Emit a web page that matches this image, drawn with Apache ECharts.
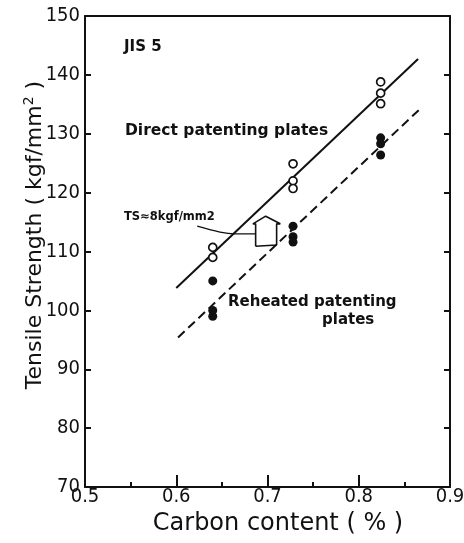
<!DOCTYPE html>
<html>
<head>
<meta charset="utf-8">
<script src="https://cdn.jsdelivr.net/npm/echarts@6/dist/echarts.min.js"></script>
<style>html,body{margin:0;padding:0;background:#fff;}#c{width:464px;height:543px;}</style>
</head>
<body>
<div id="c"></div>
<script>
// Data
var xTicks = [0.5, 0.6, 0.7, 0.8, 0.9];
var yTicks = [70, 80, 90, 100, 110, 120, 130, 140, 150];
var directX = [0.64, 0.64, 0.728, 0.728, 0.728, 0.824, 0.824, 0.824];
var directY = [110.7, 109.0, 124.9, 122.0, 120.7, 138.8, 136.9, 135.1];
var reheatX = [0.64, 0.64, 0.64, 0.728, 0.728, 0.728, 0.824, 0.824, 0.824];
var reheatY = [105.0, 100.0, 99.0, 114.3, 112.5, 111.6, 129.3, 128.3, 126.4];
var directFitX = [0.600, 0.865];
var directFitY = [103.8, 142.7];
var reheatFitX = [0.602, 0.867];
var reheatFitY = [95.4, 134.2];
var arrowX = [0.687, 0.687, 0.684, 0.698, 0.714, 0.710, 0.710, 0.687];
var arrowY = [110.9, 114.7, 114.7, 116.0, 114.7, 114.7, 111.1, 110.9];
var leaderX = [0.623, 0.648, 0.664, 0.687];
var leaderY = [114.3, 113.3, 113.0, 113.0];

function zip(a, b) { return a.map(function (v, i) { return [v, b[i]]; }); }

var chart = echarts.init(document.getElementById('c'), null, {renderer: 'canvas'});
var black = '#111';
var axisFont = '"Liberation Sans Narrow", "DejaVu Sans Condensed", sans-serif';
var option = {
  animation: false,
  backgroundColor: '#fff',
  grid: {left: 85, right: 14, top: 16, bottom: 56, containLabel: false, outerBoundsMode: 'none'},
  xAxis: [{
    type: 'value', min: xTicks[0], max: xTicks[xTicks.length - 1], interval: 0.1, position: 'bottom',
    axisLine: {lineStyle: {color: black, width: 2}},
    axisTick: {inside: true, length: 12, lineStyle: {color: black, width: 2}},
    minorTick: {show: true, splitNumber: 2, length: 5, lineStyle: {color: black, width: 2}},
    splitLine: {show: false},
    axisLabel: {color: black, fontFamily: axisFont, fontSize: 20, margin: 0, hideOverlap: false,
      formatter: function (v) { return v.toFixed(1); }}
  }, {
    type: 'value', min: 0.5, max: 0.9, position: 'top',
    axisLine: {show: true, lineStyle: {color: black, width: 2}},
    axisTick: {show: false}, axisLabel: {show: false}, splitLine: {show: false}
  }],
  yAxis: [{
    type: 'value', min: yTicks[0], max: yTicks[yTicks.length - 1], interval: 10, position: 'left',
    axisLine: {show: true, lineStyle: {color: black, width: 2}},
    axisTick: {inside: true, length: 6, lineStyle: {color: black, width: 2}},
    splitLine: {show: false},
    axisLabel: {color: black, fontFamily: axisFont, fontSize: 20, margin: 5}
  }, {
    type: 'value', min: 70, max: 150, interval: 10, position: 'right',
    axisLine: {show: true, lineStyle: {color: black, width: 2}},
    axisTick: {inside: true, length: 6, lineStyle: {color: black, width: 2}},
    axisLabel: {show: false}, splitLine: {show: false}
  }],
  series: [
    {type: 'line', data: zip(directFitX, directFitY), showSymbol: false, symbol: 'none',
      lineStyle: {color: black, width: 2}, z: 2},
    {type: 'line', data: zip(reheatFitX, reheatFitY), showSymbol: false, symbol: 'none',
      lineStyle: {color: black, width: 2, type: [9, 5]}, z: 2},
    {type: 'line', data: zip(arrowX, arrowY), showSymbol: false, symbol: 'none',
      lineStyle: {color: black, width: 1.6}, z: 3},
    {type: 'line', data: zip(leaderX, leaderY), showSymbol: false, symbol: 'none', smooth: 0.4,
      lineStyle: {color: black, width: 1.4}, z: 3},
    {type: 'scatter', data: zip(directX, directY), symbol: 'circle', symbolSize: 8,
      itemStyle: {color: '#fff', borderColor: black, borderWidth: 1.7, opacity: 1}, z: 4},
    {type: 'scatter', data: zip(reheatX, reheatY), symbol: 'circle', symbolSize: 9,
      itemStyle: {color: black, opacity: 1}, z: 4}
  ],
  graphic: [
    {type: 'text', left: 124, top: 40, style: {text: 'JIS 5', fill: black,
      font: 'bold 15px "DejaVu Sans"'}},
    {type: 'text', left: 125, top: 123, style: {text: 'Direct patenting plates', fill: black,
      font: 'bold 15.5px "DejaVu Sans"'}},
    {type: 'text', left: 124, top: 211, style: {text: 'TS\u22488kgf/mm2', fill: black,
      font: 'bold 11.5px "DejaVu Sans"'}},
    {type: 'text', left: 228, top: 295, style: {text: 'Reheated patenting', fill: black,
      font: 'bold 15px "DejaVu Sans"'}},
    {type: 'text', left: 322, top: 313, style: {text: 'plates', fill: black,
      font: 'bold 15px "DejaVu Sans"'}},
    {type: 'text', x: 35, y: 235, rotation: Math.PI / 2,
      style: {text: 'Tensile Strength ( kgf/mm{sup|2} )', fill: black,
        font: '22px "DejaVu Sans"', align: 'center', verticalAlign: 'middle',
        rich: {sup: {font: '14px "DejaVu Sans"', fill: black, verticalAlign: 'top', padding: [0, 0, 12, 0]}}}},
    {type: 'text', x: 278, y: 524,
      style: {text: 'Carbon content ( % )', fill: black, font: '24px "DejaVu Sans"',
        align: 'center', verticalAlign: 'middle'}}
  ]
};
chart.setOption(option);
</script>
</body>
</html>
